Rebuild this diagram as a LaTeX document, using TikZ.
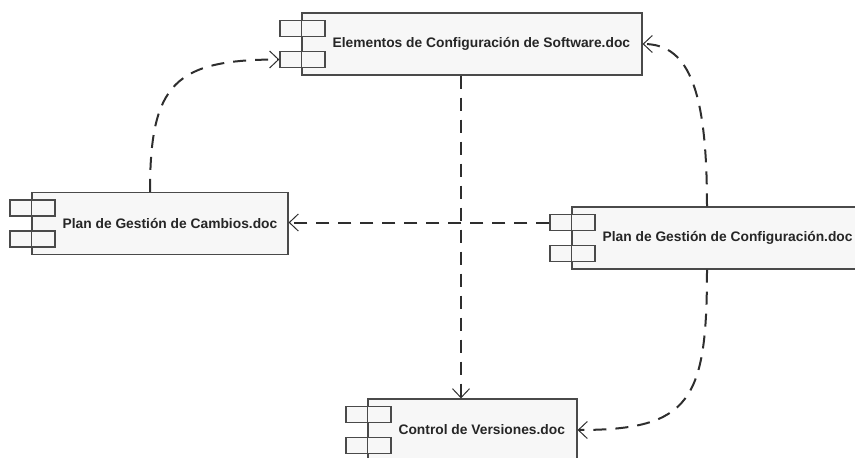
\documentclass[tikz,border=0pt]{standalone}
\usepackage{fontspec}
\setmainfont{Liberation Sans}
\usetikzlibrary{arrows.meta}
\definecolor{edge}{HTML}{2E2E2E}
\definecolor{frame}{HTML}{4A4A4A}
\definecolor{boxfill}{HTML}{F7F7F7}
\definecolor{ink}{HTML}{262626}

% component box: body, two ports on the left edge, name
\newcommand{\component}[5]{%
  \node[comp, minimum width=#4] (#1) at (#2,#3) {};
  \node[port] (#1-p1) at ([xshift=1pt,yshift=15.5pt]#1.west) {};
  \node[port] (#1-p2) at ([xshift=1pt,yshift=-15.5pt]#1.west) {};
  \draw[frame, line width=1.2pt] (#1.north west) -- (#1.south west);
  \node[compname] (#1-t) at ([xshift=31pt]#1.west) {#5};
}

\begin{document}
\begin{tikzpicture}[x=1pt,y=-1pt,
  comp/.style={draw=frame, line width=1.2pt, fill=boxfill, minimum height=62pt, inner sep=0pt},
  port/.style={draw=frame, line width=1.2pt, fill=boxfill, minimum width=45pt, minimum height=16pt, inner sep=0pt},
  compname/.style={anchor=west, inner sep=0pt, text=ink, font=\bfseries\fontsize{13.8}{16}\selectfont},
  dep/.style={draw=edge, line width=2pt, dash pattern=on 13pt off 9pt,
    -{Straight Barb[length=9pt,width=17pt,line width=1pt]}}
]
\useasboundingbox (0,0) rectangle (855,458);

\component{sw}{472}{44}{340pt}{Elementos de Configuración de Software.doc}
\component{cam}{160}{223.5}{256pt}{Plan de Gestión de Cambios.doc}
\component{pgc}{717}{238}{290pt}{Plan de Gestión de Configuración.doc}
\component{cv}{472.5}{430}{209pt}{Control de Versiones.doc}

% dependencies
\draw[dep] ([xshift=-10pt]cam.north) .. controls +(0,-108) and +(-105,0) .. (sw-p2.west);
\draw[dep] ([xshift=-11pt]sw.south) -- ([xshift=-11.5pt]cv.north);
\draw[dep] (pgc-p1.west) -- (pgc-p1.west -| cam.east);
\draw[dep] ([xshift=-10pt]pgc.north) .. controls +(0,-112) and +(48,0) .. (sw.east);
\draw[dep] ([xshift=-10pt]pgc.south) .. controls +(0,131) and +(113,0) .. (cv.east);
\end{tikzpicture}
\end{document}
